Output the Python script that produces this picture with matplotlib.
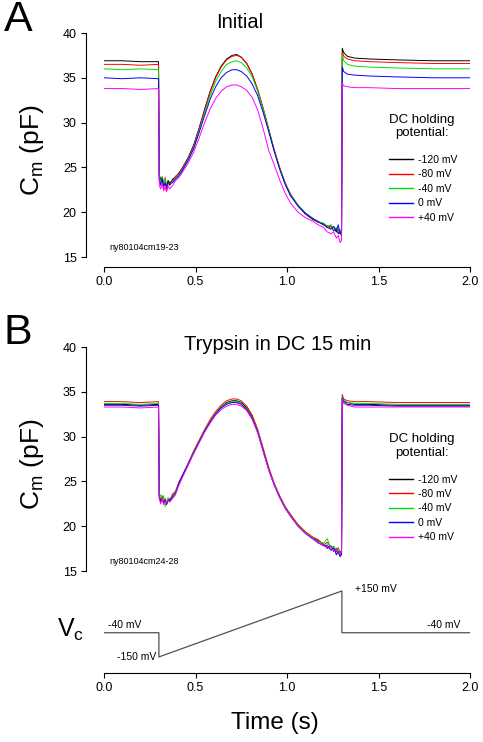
#capacitance traces at different DC holding potentials (before / after trypsin)
#with the voltage-clamp protocol under the lower panel

import numpy as np
import matplotlib.pyplot as plt

plt.rcParams['font.family'] = ['Liberation Sans', 'DejaVu Sans']
plt.rcParams['mathtext.fontset'] = 'custom'
plt.rcParams['mathtext.rm'] = 'Liberation Sans'

#time points (s) the traces were read at
t = [0.000, 0.100, 0.200, 0.298,
     0.302, 0.310, 0.318, 0.326, 0.334, 0.342, 0.350, 0.360, 0.375, 0.390,
     0.410, 0.430, 0.460, 0.490, 0.520, 0.550, 0.580, 0.610, 0.640, 0.670, 0.700,
     0.725, 0.750, 0.780, 0.810, 0.840, 0.870, 0.900, 0.930, 0.960, 0.990, 1.020, 1.060, 1.100,
     1.140, 1.170, 1.200, 1.220, 1.240, 1.255, 1.270, 1.280, 1.290, 1.298,
     1.302, 1.310, 1.330, 1.370, 1.450, 1.600, 1.800, 2.000]

labels = ["-120 mV", "-80 mV", "-40 mV", "0 mV", "+40 mV"]
colors = ["black", "red", "#00e000", "blue", "magenta"]

#A: initial (Cm in pF)
a_m120 = [36.9, 36.9, 36.8, 36.8,
          24.2, 23.6, 23.9, 23.1, 23.5, 22.9, 23.4, 23.0, 23.7, 23.9,
          24.4, 25.0, 26.1, 27.5, 29.4, 31.5, 33.5, 35.1, 36.3, 37.1, 37.5,
          37.6, 37.3, 36.6, 35.4, 33.6, 31.5, 29.2, 26.9, 24.9, 23.2, 21.9, 20.7, 19.8,
          19.2, 18.9, 18.7, 18.3, 18.5, 17.9, 18.2, 17.6, 17.9, 17.3,
          38.3, 37.8, 37.4, 37.2, 37.1, 37.0, 36.9, 36.9]
a_m80 = [36.5, 36.5, 36.4, 36.5,
         24.0, 23.3, 23.7, 22.6, 23.9, 22.4, 23.1, 23.4, 23.5, 24.0,
         24.3, 24.9, 26.0, 27.4, 29.3, 31.4, 33.4, 35.0, 36.2, 37.0, 37.4,
         37.5, 37.3, 36.6, 35.4, 33.7, 31.6, 29.3, 27.0, 25.0, 23.3, 22.0, 20.8, 19.9,
         19.3, 19.0, 18.6, 18.5, 18.2, 18.4, 17.8, 18.1, 17.6, 17.5,
         37.9, 37.4, 37.1, 36.9, 36.8, 36.7, 36.6, 36.6]
a_m40 = [36.0, 35.9, 36.0, 35.9,
         23.8, 23.4, 24.0, 23.2, 23.6, 23.1, 23.6, 23.3, 23.4, 23.8,
         24.2, 24.8, 25.9, 27.2, 29.1, 31.1, 33.0, 34.6, 35.7, 36.5, 36.8,
         36.9, 36.7, 36.1, 35.1, 33.5, 31.5, 29.2, 26.9, 24.9, 23.2, 21.9, 20.8, 19.9,
         19.3, 18.9, 18.8, 18.4, 18.6, 18.0, 18.3, 17.8, 18.1, 17.4,
         37.6, 36.9, 36.5, 36.3, 36.2, 36.1, 36.0, 36.0]
a_0 = [35.0, 34.9, 35.0, 34.9,
       23.6, 23.0, 23.8, 22.9, 23.2, 22.8, 23.5, 23.2, 23.3, 23.7,
       24.1, 24.7, 25.8, 27.1, 28.9, 30.8, 32.6, 34.0, 35.0, 35.6, 35.9,
       35.9, 35.7, 35.2, 34.3, 33.0, 31.1, 29.0, 26.8, 24.8, 23.1, 21.8, 20.7, 19.9,
       19.3, 18.9, 18.6, 18.3, 18.1, 18.4, 17.8, 18.6, 17.6, 17.9,
       36.2, 35.7, 35.4, 35.3, 35.2, 35.1, 35.0, 35.0]
a_p40 = [33.8, 33.8, 33.7, 33.8,
         23.0, 22.6, 23.2, 22.4, 22.8, 22.3, 22.9, 22.6, 23.0, 23.5,
         23.9, 24.5, 25.5, 26.7, 28.3, 30.0, 31.5, 32.7, 33.5, 34.0, 34.2,
         34.2, 34.0, 33.6, 32.8, 31.4, 29.3, 26.9, 25.3, 23.6, 22.1, 21.0, 20.0, 19.4,
         19.0, 18.6, 18.3, 17.8, 17.6, 17.8, 17.1, 17.4, 16.6, 16.9,
         34.4, 34.1, 34.0, 33.9, 33.9, 33.8, 33.8, 33.8]

#B: trypsin in DC 15 min
b_m120 = [33.6, 33.6, 33.5, 33.6,
          23.4, 22.8, 23.2, 22.6, 23.0, 22.4, 22.9, 22.8, 23.4, 23.7,
          24.9, 25.7, 27.0, 28.3, 29.5, 30.7, 31.7, 32.6, 33.3, 33.8, 34.0,
          34.0, 33.8, 33.2, 32.2, 30.6, 28.5, 26.4, 24.7, 23.3, 22.1, 21.2, 20.1, 19.3,
          18.7, 18.4, 18.0, 17.6, 17.8, 17.2, 17.5, 16.9, 17.2, 16.8,
          34.4, 34.0, 33.8, 33.6, 33.6, 33.5, 33.5, 33.5]
b_m80 = [33.9, 33.9, 33.8, 33.9,
         23.5, 22.9, 23.4, 22.5, 23.1, 22.6, 23.0, 22.9, 23.6, 23.9,
         24.9, 25.7, 27.0, 28.4, 29.6, 30.8, 31.9, 32.8, 33.5, 34.0, 34.2,
         34.2, 34.0, 33.4, 32.4, 30.8, 28.7, 26.6, 24.8, 23.4, 22.2, 21.3, 20.2, 19.4,
         18.8, 18.5, 17.9, 18.2, 17.7, 17.5, 17.1, 17.6, 17.0, 17.3,
         34.7, 34.2, 34.0, 33.9, 33.9, 33.8, 33.8, 33.8]
b_m40 = [33.7, 33.7, 33.6, 33.7,
         23.3, 23.5, 22.9, 23.4, 22.2, 22.7, 23.2, 23.0, 23.3, 23.8,
         24.8, 25.6, 26.9, 28.3, 29.5, 30.7, 31.7, 32.6, 33.3, 33.7, 33.9,
         33.9, 33.7, 33.1, 32.1, 30.6, 28.5, 26.4, 24.7, 23.3, 22.1, 21.2, 20.1, 19.3,
         18.7, 18.3, 18.1, 18.6, 17.5, 17.8, 17.3, 17.6, 16.7, 17.0,
         34.5, 34.0, 33.8, 33.7, 33.7, 33.6, 33.6, 33.6]
b_0 = [33.5, 33.5, 33.4, 33.5,
       23.2, 22.7, 23.1, 22.6, 22.9, 22.5, 22.8, 23.0, 23.2, 23.6,
       24.8, 25.7, 26.9, 28.2, 29.4, 30.6, 31.6, 32.5, 33.2, 33.6, 33.8,
       33.8, 33.6, 33.0, 32.0, 30.5, 28.4, 26.3, 24.6, 23.2, 22.0, 21.1, 20.0, 19.2,
       18.6, 18.2, 17.8, 17.9, 17.3, 17.6, 16.8, 17.2, 16.6, 16.9,
       34.3, 33.9, 33.6, 33.5, 33.5, 33.4, 33.4, 33.4]
b_p40 = [33.3, 33.3, 33.2, 33.3,
         23.0, 22.5, 23.1, 22.4, 22.8, 22.6, 22.9, 22.7, 23.1, 23.5,
         24.6, 25.5, 26.8, 28.1, 29.3, 30.5, 31.5, 32.4, 33.0, 33.4, 33.6,
         33.6, 33.4, 32.9, 31.9, 30.4, 28.3, 26.3, 24.6, 23.2, 22.0, 21.1, 20.0, 19.2,
         18.6, 18.1, 17.9, 17.5, 17.7, 17.2, 17.4, 17.0, 16.9, 17.1,
         34.2, 33.7, 33.5, 33.3, 33.3, 33.3, 33.3, 33.3]

#voltage protocol (mV)
t_vc = [0.0, 0.3, 0.3, 1.3, 1.3, 2.0]
v_vc = [-40, -40, -150, 150, -40, -40]

W, H = 483, 742
fig = plt.figure(figsize=(W/100, H/100), dpi=100)

def box(left, top, right, bottom):
    #pixel box -> figure fraction
    return [left/W, 1-bottom/H, (right-left)/W, (bottom-top)/H]

ax_a = fig.add_axes(box(104, 33, 470, 257))
ax_b = fig.add_axes(box(104, 347, 470, 571))
ax_v = fig.add_axes(box(104, 585, 470, 673))

def cm_panel(ax, traces, tag, leg_top):
    for y, c, lab in zip(traces, colors, labels):
        ax.plot(t, y, color=c, lw=0.7, label=lab)
    ax.set_xlim(0, 2)
    ax.set_ylim(15, 40)
    ax.set_yticks([15, 20, 25, 30, 35, 40])
    for s in ["top", "right"]:
        ax.spines[s].set_visible(False)
    ax.spines["left"].set_position(("outward", 13))
    ax.spines["bottom"].set_position(("outward", 7.2))
    ax.tick_params(direction="out", length=3.6, width=0.8, labelsize=9, pad=3)
    ax.text(0.016, (257-248)/224, tag, transform=ax.transAxes, fontsize=6.5, va="center")
    ax.text(0.869, leg_top + 0.128, "DC holding\npotential:", transform=ax.transAxes,
            fontsize=9.5, ha="center", va="center", linespacing=1.15)
    leg = ax.legend(loc="upper left", bbox_to_anchor=(0.779, leg_top), frameon=False,
                    fontsize=7.5, borderpad=0, handlelength=2.3, handletextpad=0.5,
                    labelspacing=0.42, borderaxespad=0)
    for ln in leg.get_lines():
        ln.set_linewidth(1.0)

cm_panel(ax_a, [a_m120, a_m80, a_m40, a_0, a_p40], "ny80104cm19-23", 0.455)
ax_a.set_xticks([0, 0.5, 1.0, 1.5, 2.0])
ax_a.set_xticklabels(["0.0", "0.5", "1.0", "1.5", "2.0"])

cm_panel(ax_b, [b_m120, b_m80, b_m40, b_0, b_p40], "ny80104cm24-28", 0.43)
ax_b.spines["bottom"].set_visible(False)
ax_b.set_xticks([])

#protocol
ax_v.plot(t_vc, v_vc, color="#505050", lw=0.9)
ax_v.set_xlim(0, 2)
ax_v.set_ylim(-223, 177)
for s in ["top", "right", "left"]:
    ax_v.spines[s].set_visible(False)
ax_v.set_yticks([])
ax_v.set_xticks([0, 0.5, 1.0, 1.5, 2.0])
ax_v.set_xticklabels(["0.0", "0.5", "1.0", "1.5", "2.0"])
ax_v.tick_params(direction="out", length=3.6, width=0.8, labelsize=9, pad=3)
ax_v.text(0.022, -4, "-40 mV", fontsize=7.5, va="center")
ax_v.text(0.284, -150, "-150 mV", fontsize=7.5, va="center", ha="right")
ax_v.text(1.372, 159, "+150 mV", fontsize=7.5, va="center")
ax_v.text(1.945, -4, "-40 mV", fontsize=7.5, va="center", ha="right")

#panel letters, titles, axis labels
fig.text(18/W, 1-20/H, "A", fontsize=31, ha="center", va="center")
fig.text(18/W, 1-333/H, "B", fontsize=31, ha="center", va="center")
fig.text(240/W, 1-22/H, "Initial", fontsize=14.5, ha="center", va="center")
fig.text(278/W, 1-345/H, "Trypsin in DC 15 min", fontsize=14.5, ha="center", va="center")
fig.text(32/W, 1-150/H, r"C$_{\mathrm{m}}$ (pF)", fontsize=19, rotation=90, ha="center", va="center")
fig.text(32/W, 1-464/H, r"C$_{\mathrm{m}}$ (pF)", fontsize=19, rotation=90, ha="center", va="center")
fig.text(71/W, 1-630/H, r"V$_{\mathrm{c}}$", fontsize=18, ha="center", va="center")
fig.text(275/W, 1-723/H, "Time (s)", fontsize=17.5, ha="center", va="center")

fig.savefig("out.png", dpi=100)
